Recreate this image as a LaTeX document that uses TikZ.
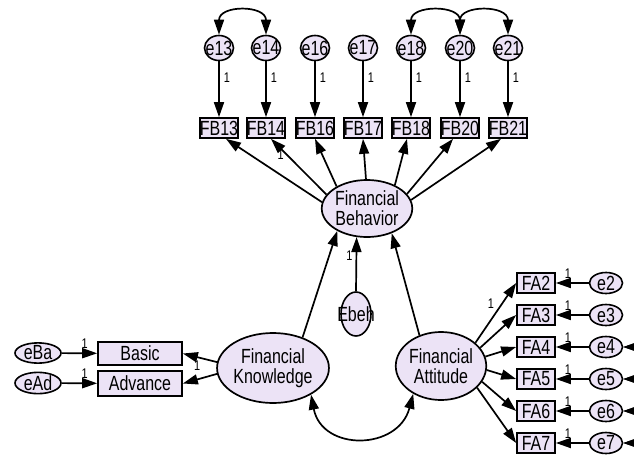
\documentclass[tikz,border=0pt]{standalone}
\usepackage{fontspec}
\setmainfont{Liberation Sans}
\newfontfamily\amosfont[FakeStretch=0.78]{Liberation Sans}
\usetikzlibrary{arrows.meta,shapes.geometric}
\definecolor{lav}{RGB}{236,227,246}
\begin{document}
\begin{tikzpicture}[x=1pt,y=-1pt,
  font=\amosfont\fontsize{20.5}{20}\selectfont,
  lat/.style={ellipse,draw,line width=1.7pt,fill=lav,inner sep=0pt,align=center},
  err/.style={ellipse,draw,line width=1.6pt,fill=lav,inner sep=0pt},
  obs/.style={rectangle,draw,line width=1.7pt,fill=lav,inner sep=0pt,minimum width=38pt,minimum height=20pt},
  arr/.style={line width=1.7pt,-{Triangle[length=15pt,width=10pt]}},
  cov/.style={line width=1.7pt,{Triangle[length=15pt,width=10pt]}-{Triangle[length=15pt,width=10pt]}},
  one/.style={font=\amosfont\fontsize{14}{14}\selectfont,inner sep=1pt}
]
\useasboundingbox[fill=white] (0,0) rectangle (634,455);

% top error terms and FB indicators
\foreach \n/\x in {13/219,14/266,16/315,17/363,18/411,20/460,21/508}{
  \node[err,minimum width=29pt,minimum height=25pt] (e\n) at (\x,48) {\makebox[0pt]{e\n}};
  \node[obs] (FB\n) at (\x,128) {\makebox[0pt]{FB\n}};
  \draw[arr] (e\n) -- node[one,pos=0.3,right=3pt]{1} (FB\n);
}
% covariances on top
\draw[cov] (e13.north) .. controls +(0,-30) and +(0,-30) .. (e14.north);
\draw[cov] (e18.north) .. controls +(0,-30) and +(0,-30) .. (e20.north);
\draw[cov] (e20.north) .. controls +(0,-30) and +(0,-30) .. (e21.north);

% latent variables
\node[lat,minimum width=90pt,minimum height=57pt] (FB) at (367,208.5) {Financial\\Behavior};
\node[lat,minimum width=100pt,minimum height=70pt] (FK) at (273,368) {Financial\\Knowledge};
\node[lat,minimum width=87pt,minimum height=68pt] (FA) at (441,366) {Financial\\Attitude};
\node[err,minimum width=30pt,minimum height=44pt] (Ebeh) at (356,314) {\makebox[0pt]{Ebeh}};

% FB -> indicators
\draw[arr] (FB.172) -- ([xshift=7pt]FB13.south);
\draw[arr] (FB.161) -- node[one,pos=0.72,left=1pt]{1} ([xshift=5pt]FB14.south);
\draw[arr] (FB.144) -- (FB16.south);
\draw[arr] (FB.92) -- (FB17.south);
\draw[arr] (FB.40) -- ([xshift=-4pt]FB18.south);
\draw[arr] (FB.20) -- ([xshift=-7pt]FB20.south);
\draw[arr] (FB.11) -- ([xshift=-7pt]FB21.south);

% structural paths
\draw[arr] (FK.46) -- (FB.217);
\draw[arr] (FA.125) -- (FB.315);
\draw[arr] (Ebeh.north) -- node[one,pos=0.66,left=2pt]{1} (FB.250);
\draw[cov] (FK.-35) .. controls +(11,57) and +(-15,57) .. (FA.225);

% Knowledge indicators
\node[obs,minimum width=84pt,minimum height=23pt] (Basic) at (140,353.5) {Basic};
\node[obs,minimum width=84pt,minimum height=25pt] (Advance) at (140,383.5) {Advance};
\node[err,minimum width=46pt,minimum height=18pt] (eBa) at (38,353) {\makebox[0pt]{eBa}};
\node[err,minimum width=46pt,minimum height=18pt] (eAd) at (38,383) {\makebox[0pt]{eAd}};
\draw[arr] (eBa) -- node[one,pos=0.65,above=3pt]{1} (Basic);
\draw[arr] (eAd) -- node[one,pos=0.65,above=3pt]{1} (Advance);
\draw[arr] (FK.174) -- node[one,pos=0.58,below=2pt]{1} (Basic.east);
\draw[arr] (FK.186) -- (Advance.east);

% Attitude indicators
\foreach \n/\y in {2/283,3/315,4/347,5/379,6/411,7/443}{
  \node[obs] (FA\n) at (536,\y) {\makebox[0pt]{FA\n}};
  \node[err,minimum width=33pt,minimum height=21pt] (e\n) at (606,\y) {\makebox[0pt]{e\n}};
  \draw[arr] (e\n) -- node[one,pos=0.63,above=3pt]{1} (FA\n);
}
\draw[arr] (FA.34) -- node[one,pos=0.65,left=6pt]{1} (FA2.west);
\draw[arr] (FA.25) -- (FA3.west);
\draw[arr] (FA.12) -- (FA4.west);
\draw[arr] (FA.-5) -- (FA5.west);
\draw[arr] (FA.-21) -- (FA6.west);
\draw[arr] (FA.-31) -- (FA7.west);

% right-side covariances
\draw[cov] (e4.east) .. controls +(13,0) and +(13,0) .. (e7.east);
\draw[cov] (e4.east) .. controls +(13,0) and +(13,0) .. (e5.east);
\draw[cov] (e5.east) .. controls +(13,0) and +(13,0) .. (e6.east);
\draw[cov] (e6.east) .. controls +(13,0) and +(13,0) .. (e7.east);
\end{tikzpicture}
\end{document}
